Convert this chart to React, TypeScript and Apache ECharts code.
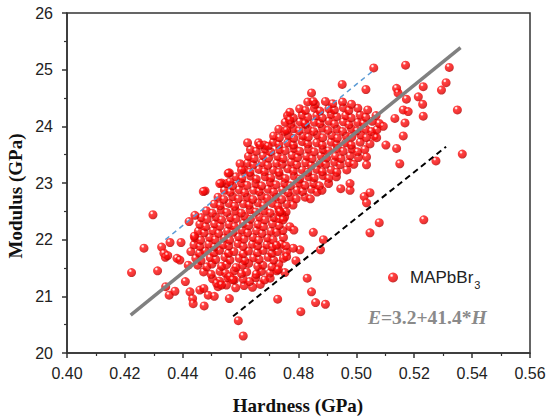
import React, { useEffect, useRef } from "react";
import * as echarts from "echarts";

// ---- axis ticks ----
const xMin = 0.4;
const xMax = 0.56;
const xStep = 0.02;
const yMin = 20;
const yMax = 26;
const yStep = 1;

// ---- series names / texts ----
const seriesName = "MAPbBr3";
const xTitle = "Hardness (GPa)";
const yTitle = "Modulus (GPa)";

// ---- dense core of the cloud [Hardness, Modulus] ----
const densePoints: [number, number][] = [
  [0.4522, 21.17], [0.4551, 21.2], [0.4583, 21.15], [0.4612, 21.19], [0.4641, 21.16], [0.4668, 21.21],
  [0.4503, 21.31], [0.4527, 21.27], [0.4556, 21.33], [0.4578, 21.29], [0.4609, 21.3], [0.4631, 21.26], [0.4652, 21.33], [0.4683, 21.29], [0.4702, 21.32],
  [0.4472, 21.43], [0.4498, 21.39], [0.4529, 21.44], [0.4547, 21.41], [0.4578, 21.45], [0.4603, 21.4], [0.4621, 21.43], [0.4654, 21.39], [0.4672, 21.44], [0.4701, 21.41], [0.4725, 21.45],
  [0.4452, 21.55], [0.4483, 21.52], [0.4501, 21.57], [0.4534, 21.53], [0.4552, 21.56], [0.4584, 21.51], [0.4607, 21.55], [0.4628, 21.58], [0.4659, 21.53], [0.4677, 21.55], [0.4708, 21.52], [0.4732, 21.57],
  [0.4445, 21.67], [0.4463, 21.63], [0.4495, 21.68], [0.4514, 21.65], [0.4546, 21.69], [0.4563, 21.64], [0.4595, 21.67], [0.4614, 21.63], [0.4645, 21.68], [0.4664, 21.65], [0.4695, 21.69], [0.4714, 21.64], [0.4748, 21.67],
  [0.4428, 21.79], [0.4458, 21.76], [0.4477, 21.8], [0.4508, 21.77], [0.4527, 21.81], [0.4558, 21.76], [0.4577, 21.79], [0.4609, 21.75], [0.4627, 21.8], [0.4658, 21.77], [0.4678, 21.81], [0.4708, 21.76], [0.4728, 21.79], [0.4758, 21.78],
  [0.4439, 21.91], [0.4459, 21.88], [0.449, 21.92], [0.4509, 21.87], [0.454, 21.91], [0.4559, 21.89], [0.4591, 21.93], [0.4609, 21.88], [0.4641, 21.92], [0.4659, 21.89], [0.4691, 21.91], [0.4709, 21.87], [0.4741, 21.92], [0.4756, 21.89],
  [0.4442, 22.03], [0.4462, 21.99], [0.4493, 22.04], [0.4512, 22.0], [0.4543, 22.03], [0.4562, 21.99], [0.4593, 22.05], [0.4612, 22.01], [0.4643, 22.04], [0.4662, 21.99], [0.4693, 22.03], [0.4712, 22.0], [0.4748, 22.04],
  [0.4454, 22.15], [0.4474, 22.12], [0.4505, 22.16], [0.4524, 22.11], [0.4555, 22.15], [0.4574, 22.13], [0.4605, 22.17], [0.4624, 22.12], [0.4655, 22.16], [0.4674, 22.11], [0.4705, 22.15], [0.4724, 22.13], [0.4746, 22.16],
  [0.4459, 22.27], [0.4479, 22.23], [0.451, 22.28], [0.4529, 22.24], [0.456, 22.27], [0.4579, 22.23], [0.461, 22.29], [0.4629, 22.25], [0.466, 22.27], [0.4679, 22.23], [0.471, 22.28], [0.4733, 22.25],
  [0.4464, 22.39], [0.4484, 22.36], [0.4515, 22.4], [0.4534, 22.35], [0.4565, 22.39], [0.4584, 22.37], [0.4615, 22.41], [0.4634, 22.36], [0.4665, 22.4], [0.4684, 22.35], [0.4715, 22.39], [0.4734, 22.37], [0.4752, 22.4],
  [0.4482, 22.51], [0.4502, 22.47], [0.4533, 22.52], [0.4552, 22.48], [0.4583, 22.51], [0.4602, 22.47], [0.4633, 22.53], [0.4652, 22.49], [0.4683, 22.51], [0.4702, 22.47], [0.4733, 22.52], [0.4757, 22.49],
  [0.4509, 22.63], [0.4529, 22.6], [0.456, 22.64], [0.4579, 22.59], [0.461, 22.63], [0.4629, 22.61], [0.466, 22.65], [0.4679, 22.6], [0.471, 22.64], [0.4729, 22.59], [0.476, 22.63], [0.4781, 22.61],
  [0.4522, 22.75], [0.4542, 22.71], [0.4573, 22.76], [0.4592, 22.72], [0.4623, 22.75], [0.4642, 22.71], [0.4673, 22.77], [0.4692, 22.73], [0.4723, 22.75], [0.4742, 22.71], [0.4773, 22.76], [0.4792, 22.72], [0.4823, 22.75], [0.4841, 22.72],
  [0.4544, 22.87], [0.4564, 22.84], [0.4595, 22.88], [0.4614, 22.83], [0.4645, 22.87], [0.4664, 22.85], [0.4695, 22.89], [0.4714, 22.84], [0.4745, 22.88], [0.4764, 22.83], [0.4795, 22.87], [0.4814, 22.85], [0.4845, 22.89], [0.4864, 22.84], [0.4881, 22.87],
  [0.4552, 22.99], [0.4572, 22.95], [0.4603, 23.0], [0.4622, 22.96], [0.4653, 22.99], [0.4672, 22.95], [0.4703, 23.01], [0.4722, 22.97], [0.4753, 22.99], [0.4772, 22.95], [0.4803, 23.0], [0.4822, 22.96], [0.4853, 22.99], [0.4872, 22.95], [0.4904, 22.99],
  [0.4584, 23.11], [0.4604, 23.08], [0.4635, 23.12], [0.4654, 23.07], [0.4685, 23.11], [0.4704, 23.09], [0.4735, 23.13], [0.4754, 23.08], [0.4785, 23.12], [0.4804, 23.07], [0.4835, 23.11], [0.4854, 23.09], [0.4885, 23.13], [0.4904, 23.08], [0.4931, 23.11],
  [0.4612, 23.23], [0.4632, 23.19], [0.4663, 23.24], [0.4682, 23.2], [0.4713, 23.23], [0.4732, 23.19], [0.4763, 23.25], [0.4782, 23.21], [0.4813, 23.23], [0.4832, 23.19], [0.4863, 23.24], [0.4882, 23.2], [0.4913, 23.23], [0.4932, 23.19], [0.4967, 23.23],
  [0.4624, 23.35], [0.4644, 23.32], [0.4675, 23.36], [0.4694, 23.31], [0.4725, 23.35], [0.4744, 23.33], [0.4775, 23.37], [0.4794, 23.32], [0.4825, 23.36], [0.4844, 23.31], [0.4875, 23.35], [0.4894, 23.33], [0.4925, 23.37], [0.4944, 23.32], [0.4975, 23.36], [0.4991, 23.33],
  [0.4627, 23.47], [0.4647, 23.43], [0.4678, 23.48], [0.4697, 23.44], [0.4728, 23.47], [0.4747, 23.43], [0.4778, 23.49], [0.4797, 23.45], [0.4828, 23.47], [0.4847, 23.43], [0.4878, 23.48], [0.4897, 23.44], [0.4928, 23.47], [0.4947, 23.43], [0.4978, 23.48], [0.5007, 23.45],
  [0.4634, 23.59], [0.4654, 23.56], [0.4685, 23.6], [0.4704, 23.55], [0.4735, 23.59], [0.4754, 23.57], [0.4785, 23.61], [0.4804, 23.56], [0.4835, 23.6], [0.4854, 23.55], [0.4885, 23.59], [0.4904, 23.57], [0.4935, 23.61], [0.4954, 23.56], [0.4985, 23.6], [0.5004, 23.55], [0.5029, 23.59],
  [0.4662, 23.71], [0.4682, 23.67], [0.4713, 23.72], [0.4732, 23.68], [0.4763, 23.71], [0.4782, 23.67], [0.4813, 23.73], [0.4832, 23.69], [0.4863, 23.71], [0.4882, 23.67], [0.4913, 23.72], [0.4932, 23.68], [0.4963, 23.71], [0.4982, 23.67], [0.5013, 23.72], [0.5047, 23.69],
  [0.4714, 23.83], [0.4734, 23.8], [0.4765, 23.84], [0.4784, 23.79], [0.4815, 23.83], [0.4834, 23.81], [0.4865, 23.85], [0.4884, 23.8], [0.4915, 23.84], [0.4934, 23.79], [0.4965, 23.83], [0.4984, 23.81], [0.5015, 23.85], [0.5034, 23.8], [0.5061, 23.83],
  [0.4732, 23.95], [0.4752, 23.91], [0.4783, 23.96], [0.4802, 23.92], [0.4833, 23.95], [0.4852, 23.91], [0.4883, 23.97], [0.4902, 23.93], [0.4933, 23.95], [0.4952, 23.91], [0.4983, 23.96], [0.5002, 23.92], [0.5033, 23.95], [0.5052, 23.91], [0.5071, 23.94],
  [0.4754, 24.07], [0.4774, 24.04], [0.4805, 24.08], [0.4824, 24.03], [0.4855, 24.07], [0.4874, 24.05], [0.4905, 24.09], [0.4924, 24.04], [0.4955, 24.08], [0.4974, 24.03], [0.5005, 24.07], [0.5024, 24.05], [0.5055, 24.09], [0.5079, 24.05],
  [0.4762, 24.19], [0.4782, 24.15], [0.4813, 24.2], [0.4832, 24.16], [0.4863, 24.19], [0.4882, 24.15], [0.4913, 24.21], [0.4932, 24.17], [0.4963, 24.19], [0.4982, 24.15], [0.5013, 24.2], [0.5032, 24.16], [0.5068, 24.19],
  [0.4804, 24.31], [0.4824, 24.28], [0.4855, 24.32], [0.4874, 24.27], [0.4905, 24.31], [0.4924, 24.29], [0.4955, 24.33], [0.4974, 24.28], [0.5005, 24.32], [0.5039, 24.29],
  [0.4832, 24.43], [0.4858, 24.39], [0.4893, 24.44], [0.4918, 24.4], [0.4952, 24.43], [0.4983, 24.39],
];

// ---- scattered points around the cloud [Hardness, Modulus] ----
const outlierPoints: [number, number][] = [
  [0.4223, 21.42], [0.4266, 21.85], [0.4297, 22.44], [0.4313, 21.45], [0.4327, 21.87], [0.4335, 21.76],
  [0.434, 21.69], [0.4348, 21.72], [0.4356, 21.95], [0.4341, 21.17], [0.4353, 21.02], [0.4373, 21.09],
  [0.438, 21.67], [0.439, 21.64], [0.4394, 21.95], [0.4409, 21.26], [0.4419, 21.55], [0.4425, 21.08],
  [0.4434, 20.96], [0.4436, 20.87], [0.444, 22.06], [0.4422, 22.32], [0.4442, 22.43], [0.4474, 20.83],
  [0.4459, 21.11], [0.4473, 21.14], [0.4488, 21.02], [0.4509, 21.0], [0.4517, 21.23], [0.4534, 21.2],
  [0.4561, 20.96], [0.4592, 20.57], [0.4609, 20.3], [0.4563, 21.35], [0.4573, 21.29],
  [0.5233, 22.35], [0.5079, 22.3], [0.5047, 22.12], [0.4851, 22.13], [0.4886, 22.0], [0.4876, 21.82],
  [0.483, 21.32], [0.4845, 21.08], [0.4859, 20.89], [0.4893, 20.86], [0.4808, 20.73], [0.4728, 20.95],
  [0.477, 22.23], [0.4784, 22.17], [0.4805, 21.82], [0.4782, 21.85], [0.4759, 21.7], [0.4791, 21.63],
  [0.4753, 21.42], [0.473, 21.47], [0.4724, 21.9], [0.4742, 22.46], [0.4736, 22.49], [0.4747, 22.35],
  [0.506, 25.03], [0.517, 25.08], [0.5321, 25.04], [0.531, 24.77], [0.5294, 24.64], [0.5231, 24.7],
  [0.5214, 24.52], [0.5229, 24.39], [0.5349, 24.29], [0.5366, 23.51], [0.5275, 23.39], [0.515, 23.34],
  [0.5139, 23.61], [0.5102, 23.67], [0.5162, 23.83], [0.5231, 24.18], [0.5139, 24.67], [0.5144, 24.59],
  [0.5173, 24.48], [0.5162, 24.29], [0.5179, 24.26], [0.5168, 24.06], [0.5133, 24.14], [0.5093, 24.0],
  [0.507, 23.8], [0.5033, 24.65], [0.4951, 24.74], [0.4845, 24.59], [0.4851, 24.44], [0.477, 24.25],
  [0.477, 24.11], [0.5035, 23.46], [0.5035, 23.32], [0.5027, 22.76], [0.5047, 22.83], [0.5035, 22.65],
  [0.4978, 22.99], [0.4978, 22.87], [0.4946, 22.9],
  [0.4624, 23.71], [0.4598, 23.34], [0.4603, 23.23], [0.4561, 23.18], [0.4534, 23.0], [0.4563, 23.02],
  [0.4477, 22.86], [0.4667, 23.67], [0.4695, 23.65], [0.4759, 23.93], [0.4822, 24.05], [0.4528, 22.99],
  [0.4557, 23.17], [0.4471, 22.85],
];

// ---- fitted / guide lines [Hardness, Modulus] ----
const fitLine: [number, number][] = [[0.422, 20.67], [0.536, 25.39]];
const upperGuide: [number, number][] = [[0.434, 22.0], [0.506, 24.99]];
const lowerGuide: [number, number][] = [[0.4574, 20.65], [0.531, 23.64]];

const scatterData: [number, number][] = [...densePoints, ...outlierPoints];

const sphere = {
  type: "radial",
  x: 0.36,
  y: 0.3,
  r: 0.7,
  colorStops: [
    { offset: 0, color: "#ffffff" },
    { offset: 0.1, color: "#ffdede" },
    { offset: 0.28, color: "#ff1414" },
    { offset: 0.75, color: "#f00000" },
    { offset: 1, color: "#b00000" },
  ],
};

export default function App() {
  const ref = useRef<HTMLDivElement>(null);
  useEffect(() => {
    if (!ref.current) return;
    const chart = echarts.init(ref.current, null, { renderer: "svg" });
    const axisCommon = {
      axisLine: { show: true, lineStyle: { color: "#333", width: 1.5 } },
      axisTick: { show: true, inside: false, length: 5, lineStyle: { color: "#333", width: 1.5 } },
      minorTick: { show: true, splitNumber: 2, length: 3, lineStyle: { color: "#333", width: 1.2 } },
      splitLine: { show: false },
    };
    chart.setOption({
      animation: false,
      backgroundColor: "#ffffff",
      grid: { left: 67, right: 20, top: 13, bottom: 66, show: true, borderColor: "#333", borderWidth: 1.5 },
      xAxis: {
        type: "value",
        min: xMin,
        max: xMax,
        interval: xStep,
        ...axisCommon,
        axisLabel: {
          margin: 12,
          fontSize: 16,
          fontFamily: "Liberation Sans",
          color: "#222",
          formatter: (v: number) => v.toFixed(2),
        },
      },
      yAxis: {
        type: "value",
        min: yMin,
        max: yMax,
        interval: yStep,
        ...axisCommon,
        axisLabel: { margin: 14, fontSize: 16, fontFamily: "Liberation Sans", color: "#222" },
      },
      legend: {
        show: true,
        data: [seriesName],
        left: 383,
        top: 264,
        itemWidth: 10,
        itemHeight: 10,
        icon: "circle",
        formatter: () => "{a|MAPbBr}{b|3}",
        textStyle: {
          rich: {
            a: { fontSize: 17, lineHeight: 26, fontFamily: "Liberation Sans", color: "#222", padding: [0, 0, 0, 7] },
            b: { fontSize: 11, verticalAlign: "bottom", fontFamily: "Liberation Sans", color: "#222", padding: [0, 0, 0, 1] },
          },
        },
      },
      series: [
        {
          name: seriesName,
          type: "scatter",
          data: scatterData,
          symbol: "circle",
          symbolSize: 9,
          itemStyle: { color: sphere, borderWidth: 0 },
          z: 2,
        },
        {
          type: "line",
          data: fitLine,
          symbol: "none",
          lineStyle: { color: "#808080", width: 3.5 },
          z: 4,
        },
        {
          type: "line",
          data: upperGuide,
          symbol: "none",
          lineStyle: { color: "#5b9bd5", width: 1.5, type: [5, 4] },
          z: 3,
        },
        {
          type: "line",
          data: lowerGuide,
          symbol: "none",
          lineStyle: { color: "#000000", width: 2, type: [6, 4] },
          z: 3,
        },
      ],
      graphic: [
        {
          type: "text",
          style: {
            text: xTitle,
            x: 298,
            y: 405,
            align: "center",
            verticalAlign: "middle",
            font: 'bold 19px "Liberation Serif"',
            fill: "#111",
          },
        },
        {
          type: "text",
          x: 15,
          y: 196,
          rotation: Math.PI / 2,
          style: {
            text: yTitle,
            x: 0,
            y: 0,
            align: "center",
            verticalAlign: "middle",
            font: 'bold 19px "Liberation Serif"',
            fill: "#111",
          },
        },
        {
          type: "text",
          style: {
            text: "{i|E}{n|=3.2+41.4*}{i|H}",
            x: 368,
            y: 317,
            verticalAlign: "middle",
            rich: {
              i: { fontStyle: "italic", fontWeight: "bold", fontSize: 19.5, fontFamily: "Liberation Serif", fill: "#8a8a8a" },
              n: { fontWeight: "bold", fontSize: 19.5, fontFamily: "Liberation Serif", fill: "#8a8a8a" },
            },
          },
        },
      ],
    });
    return () => chart.dispose();
  }, []);
  return <div ref={ref} style={{ position: "fixed", left: 0, top: 0, width: 550, height: 419 }} />;
}
